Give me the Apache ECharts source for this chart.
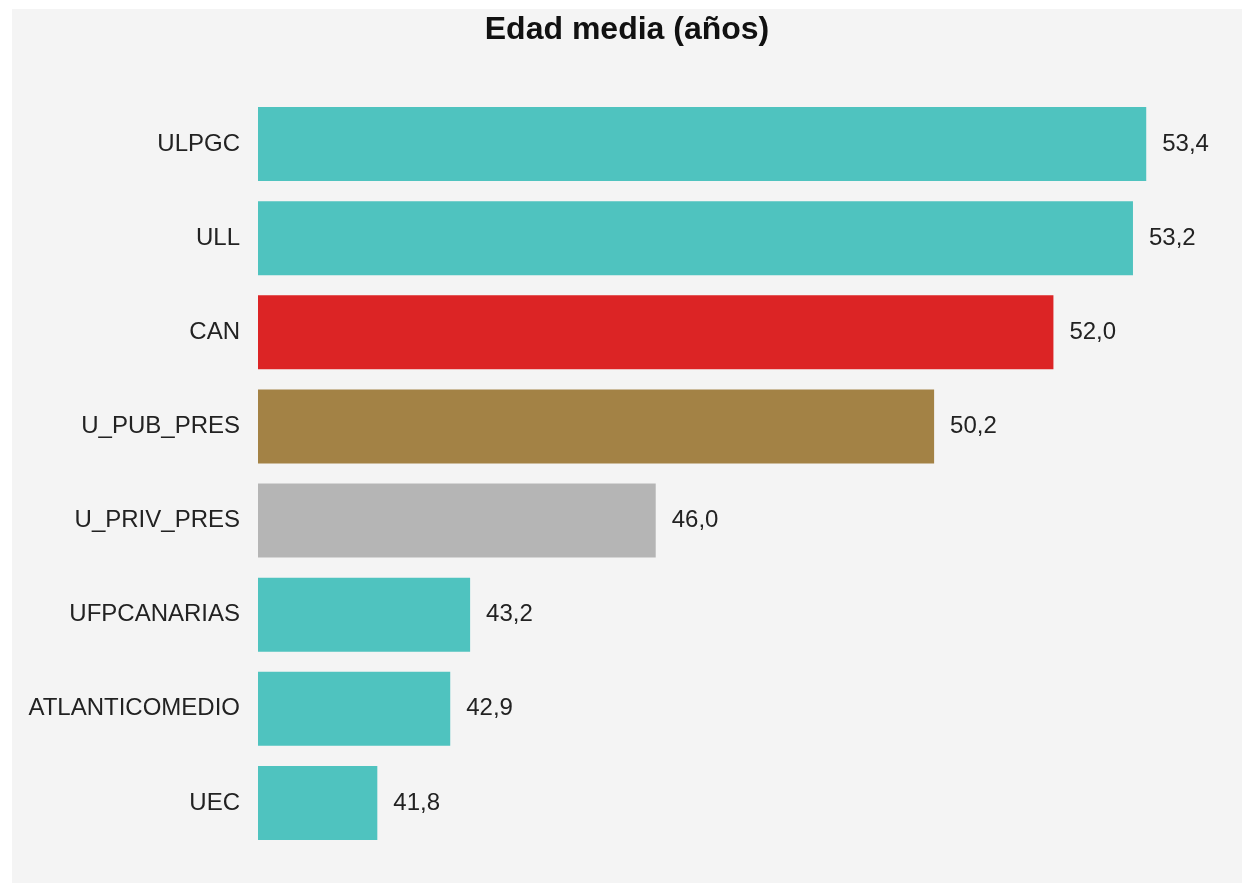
<!DOCTYPE html>
<html>
<head>
<meta charset="utf-8">
<script src="https://cdn.jsdelivr.net/npm/echarts@6/dist/echarts.min.js"></script>
<style>
html,body{margin:0;padding:0;background:#ffffff;}
#chart{position:absolute;left:12px;top:9px;width:1230px;height:874px;}
</style>
</head>
<body>
<div id="chart"></div>
<script>
const categories = ["ULPGC","ULL","CAN","U_PUB_PRES","U_PRIV_PRES","UFPCANARIAS","ATLANTICOMEDIO","UEC"];
const values = [53.4, 53.2, 52.0, 50.2, 46.0, 43.2, 42.9, 41.8];
const barColors = ["#4fc3bf","#4fc3bf","#dc2425","#a38245","#b5b5b5","#4fc3bf","#4fc3bf","#4fc3bf"];
const titleText = "Edad media (años)";

const chart = echarts.init(document.getElementById('chart'), null, {renderer:'canvas'});
chart.setOption({
  backgroundColor: '#f4f4f4',
  animation: false,
  title: {
    text: titleText,
    left: 'center',
    top: 0,
    textStyle: {fontFamily: 'Liberation Sans, Arial, sans-serif', fontSize: 32, fontWeight: 'bold', color: '#111'}
  },
  grid: {left: 246, right: 56, top: 88, bottom: 33, containLabel: false},
  xAxis: {
    type: 'value', min: 40, max: 54, show: false,
    splitLine: {show: false}
  },
  yAxis: {
    type: 'category', data: categories, inverse: true,
    axisLine: {show: false}, axisTick: {show: false},
    axisLabel: {fontFamily: 'Liberation Sans, Arial, sans-serif', fontSize: 24, color: '#222', margin: 18}
  },
  series: [{
    type: 'bar',
    data: values.map((v, i) => ({value: v, itemStyle: {color: barColors[i]}})),
    barWidth: 74,
    label: {
      show: true, position: 'right', distance: 16,
      fontFamily: 'Liberation Sans, Arial, sans-serif', fontSize: 24, color: '#222',
      formatter: p => p.value.toFixed(1).replace('.', ',')
    }
  }]
});
</script>
</body>
</html>
